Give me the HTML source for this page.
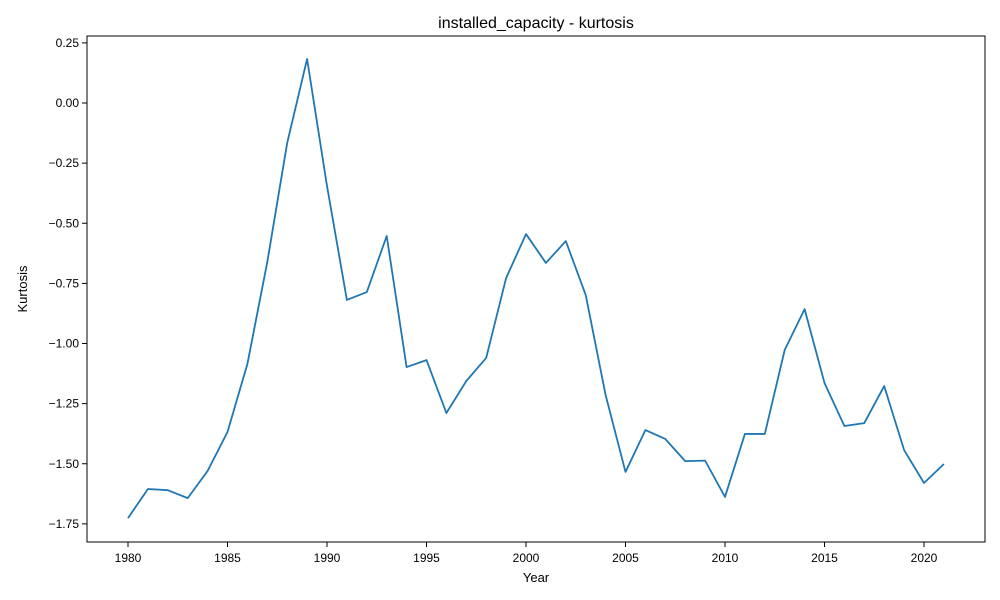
<!DOCTYPE html>
<html><head><meta charset="utf-8"><style>
body{margin:0;background:#fff}
svg{display:block;font-family:"Liberation Sans","DejaVu Sans",sans-serif}
</style></head><body>
<svg id="chart" width="1000" height="600" viewBox="0 0 1000 600">
<rect width="1000" height="600" fill="#fff"/>
<text x="536" y="28" font-size="16" text-anchor="middle">installed_capacity - kurtosis</text>
<g id="axes"></g>
<rect x="87" y="36" width="898" height="506" fill="none" stroke="#000" stroke-width="1"/>
<text x="536" y="582" font-size="13" text-anchor="middle">Year</text>
<text x="27" y="289" font-size="13" text-anchor="middle" transform="rotate(-90 27 289)">Kurtosis</text>
</svg>
<script>
const years=[1980,1981,1982,1983,1984,1985,1986,1987,1988,1989,1990,1991,1992,1993,1994,1995,1996,1997,1998,1999,2000,2001,2002,2003,2004,2005,2006,2007,2008,2009,2010,2011,2012,2013,2014,2015,2016,2017,2018,2019,2020,2021];
const kurtosis=[-1.726,-1.605,-1.61,-1.643,-1.53,-1.368,-1.085,-0.661,-0.166,0.183,-0.345,-0.819,-0.786,-0.553,-1.098,-1.069,-1.289,-1.156,-1.06,-0.728,-0.545,-0.665,-0.574,-0.798,-1.214,-1.534,-1.36,-1.397,-1.489,-1.487,-1.638,-1.376,-1.376,-1.027,-0.857,-1.164,-1.343,-1.331,-1.177,-1.443,-1.58,-1.501];
const xTicks=[1980,1985,1990,1995,2000,2005,2010,2015,2020];
const yTicks=[0.25,0,-0.25,-0.5,-0.75,-1,-1.25,-1.5,-1.75];
const yLabels=["0.25","0.00","\u22120.25","\u22120.50","\u22120.75","\u22121.00","\u22121.25","\u22121.50","\u22121.75"];
const xs=y=>128+(y-1980)*(924-128)/40;
const ys=v=>103-v*240.5;
const NS="http://www.w3.org/2000/svg";
const g=document.getElementById('axes');
function mk(t,a){const e=document.createElementNS(NS,t);for(const k in a)e.setAttribute(k,a[k]);return e;}
xTicks.forEach(t=>{
 const l=mk('line',{x1:xs(t),x2:xs(t),y1:542,y2:547,stroke:'#000'});
 
 
 g.appendChild(l);
 const tx=mk('text',{x:xs(t),y:562,'font-size':12,'text-anchor':'middle'});
 tx.textContent=t;
 
 
 g.appendChild(tx);
});
yTicks.forEach((t,i)=>{
 const l=mk('line',{x1:82,x2:87,y1:ys(t),y2:ys(t),stroke:'#000'});
 
 
 g.appendChild(l);
 const tx=mk('text',{x:79,y:ys(t)+4,'font-size':12,'text-anchor':'end'});
 tx.textContent=yLabels[i];
 
 
 g.appendChild(tx);
});
const p=mk('polyline',{points:years.map((y,i)=>xs(y)+','+ys(kurtosis[i])).join(' '),fill:'none',stroke:'#1f77b4','stroke-width':1.8,'stroke-linejoin':'round'});


g.appendChild(p);
</script>
</body></html>
